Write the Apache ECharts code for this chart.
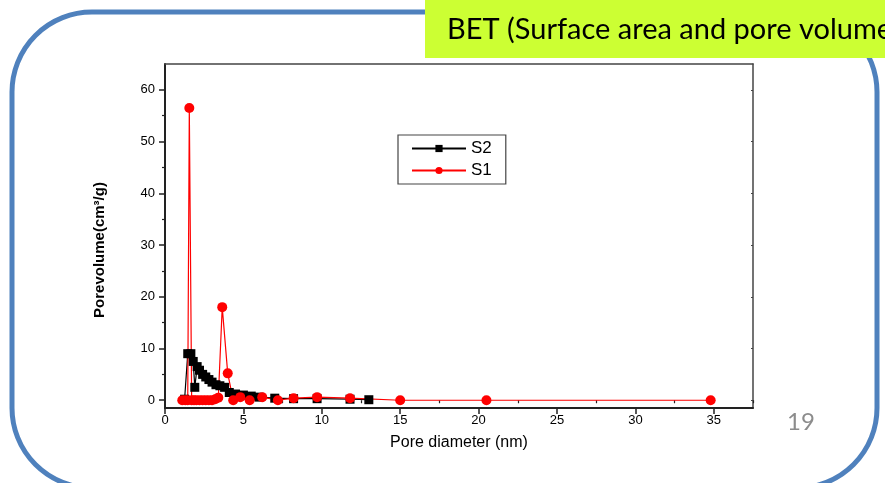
<!DOCTYPE html>
<html>
<head>
    <meta charset="UTF-8">
    <title>BET pore size distribution</title>
    <style>
        html, body { margin: 0; padding: 0; background: #ffffff; }
        #chart { width: 885px; height: 483px; }
    </style>
</head>
<body>
    <div id="chart"></div>
    <script src="https://cdn.jsdelivr.net/npm/echarts@6/dist/echarts.min.js"></script>
    <script>
        // 数据
        const s2Diameter = [1.25, 1.45, 1.65, 1.8, 1.9, 2.05, 2.2, 2.4, 2.6, 2.8, 3.0, 3.25, 3.5, 3.8, 4.1, 4.5, 5.0, 5.5, 6.0, 7.0, 8.2, 9.7, 11.8, 13.0];
        const s2Volume   = [0.2, 9.0, 9.0, 7.5, 2.5, 6.5, 5.8, 5.0, 4.5, 4.0, 3.5, 3.0, 2.8, 2.5, 1.5, 1.2, 1.0, 0.8, 0.6, 0.4, 0.3, 0.3, 0.2, 0.1];

        const s1Diameter = [1.1, 1.3, 1.45, 1.55, 1.7, 1.85, 2.0, 2.2, 2.4, 2.6, 2.8, 3.0, 3.2, 3.4, 3.65, 4.0, 4.35, 4.8, 5.4, 6.2, 7.2, 8.2, 9.7, 11.8, 15.0, 20.5, 34.8];
        const s1Volume   = [0.0, 0.0, 0.0, 56.5, 0.0, 0.0, 0.0, 0.0, 0.0, 0.0, 0.0, 0.0, 0.2, 0.5, 18.0, 5.2, 0.0, 0.6, 0.0, 0.6, 0.0, 0.4, 0.6, 0.4, 0.0, 0.0, 0.0];

        const xTicks = [0, 5, 10, 15, 20, 25, 30, 35];
        const xMinorTicks = [2.5, 7.5, 12.5, 17.5, 22.5, 27.5, 32.5, 37.5];
        const yTicks = [0, 10, 20, 30, 40, 50, 60];
        const yMinorTicks = [5, 15, 25, 35, 45, 55];

        const zip = (xs, ys) => xs.map((x, i) => [x, ys[i]]);

        const chart = echarts.init(document.getElementById('chart'));

        const labelFont = { fontFamily: 'Liberation Sans', color: '#000', fontSize: 13 };

        const option = {
            backgroundColor: '#ffffff',
            animation: false,
            grid: { left: 165, right: 132, top: 64, bottom: 75 },
            legend: {
                left: 398, top: 135,
                orient: 'vertical',
                data: ['S2', 'S1'],
                borderColor: '#444', borderWidth: 1.2,
                padding: [5, 14, 5, 13],
                itemWidth: 54, itemHeight: 9, itemGap: 5,
                textStyle: { fontFamily: 'Liberation Sans', fontSize: 17, color: '#000' }
            },
            xAxis: [{
                type: 'value', min: 0, max: 37.5,
                name: 'Pore diameter (nm)', nameLocation: 'middle', nameGap: 27,
                nameTextStyle: { fontFamily: 'Liberation Sans', fontSize: 16, color: '#000' },
                axisLine: { onZero: false, lineStyle: { color: '#222', width: 2 } },
                axisTick: { customValues: xTicks, length: 6, lineStyle: { color: '#222', width: 1.5 } },
                axisLabel: Object.assign({ customValues: xTicks, margin: 6 }, labelFont),
                splitLine: { show: false }
            }, {
                type: 'value', min: 0, max: 37.5, position: 'bottom',
                axisLine: { show: false },
                axisTick: { customValues: xMinorTicks, length: 3, lineStyle: { color: '#222', width: 1.2 } },
                axisLabel: { show: false },
                splitLine: { show: false }
            }, {
                type: 'value', min: 0, max: 37.5, position: 'top',
                axisLine: { onZero: false, lineStyle: { color: '#444', width: 1.5 } },
                axisTick: { show: false }, axisLabel: { show: false },
                splitLine: { show: false }
            }],
            yAxis: [{
                type: 'value', min: -1.5, max: 65,
                name: 'Porevolume(cm³/g)', nameLocation: 'middle', nameGap: 58,
                nameTextStyle: { fontFamily: 'Liberation Sans', fontSize: 15, fontWeight: 'bold', color: '#000', padding: [0, 28, 0, 0] },
                axisLine: { onZero: false, lineStyle: { color: '#222', width: 2 } },
                axisTick: { customValues: yTicks, length: 6, lineStyle: { color: '#222', width: 1.5 } },
                axisLabel: Object.assign({ customValues: yTicks, margin: 10 }, labelFont),
                splitLine: { show: false }
            }, {
                type: 'value', min: -1.5, max: 65, position: 'left',
                axisLine: { show: false },
                axisTick: { customValues: yMinorTicks, length: 3, lineStyle: { color: '#222', width: 1.2 } },
                axisLabel: { show: false },
                splitLine: { show: false }
            }, {
                type: 'value', min: -1.5, max: 65, position: 'right',
                axisLine: { onZero: false, lineStyle: { color: '#444', width: 1.5 } },
                axisTick: { inside: true, customValues: yTicks, length: 2, lineStyle: { color: '#444' } },
                axisLabel: { show: false },
                splitLine: { show: false }
            }],
            series: [{
                name: 'S2', type: 'line',
                data: zip(s2Diameter, s2Volume),
                symbol: 'rect', symbolSize: 9,
                itemStyle: { color: '#000' },
                lineStyle: { color: '#000', width: 1.2 }
            }, {
                name: 'S1', type: 'line',
                data: zip(s1Diameter, s1Volume),
                symbol: 'circle', symbolSize: 10,
                itemStyle: { color: '#ff0000' },
                lineStyle: { color: '#ff0000', width: 1.2 }
            }],
            graphic: [{
                type: 'rect',
                shape: { x: 12, y: 12, width: 865, height: 476, r: 80 },
                style: { fill: 'none', stroke: '#4F81BD', lineWidth: 5 },
                z: 100
            }, {
                type: 'rect',
                shape: { x: 425, y: 0, width: 460, height: 58 },
                style: { fill: '#CCFF33' },
                z: 101
            }, {
                type: 'text', left: 447, top: 15,
                style: { text: 'BET (Surface area and pore volume)', fontFamily: 'Lato', fontSize: 29, fill: '#000' },
                z: 102
            }, {
                type: 'text', left: 787, top: 410,
                style: { text: '19', fontFamily: 'Lato', fontSize: 24, fill: '#8c8c8c' },
                z: 102
            }]
        };

        chart.setOption(option);
    </script>
</body>
</html>
